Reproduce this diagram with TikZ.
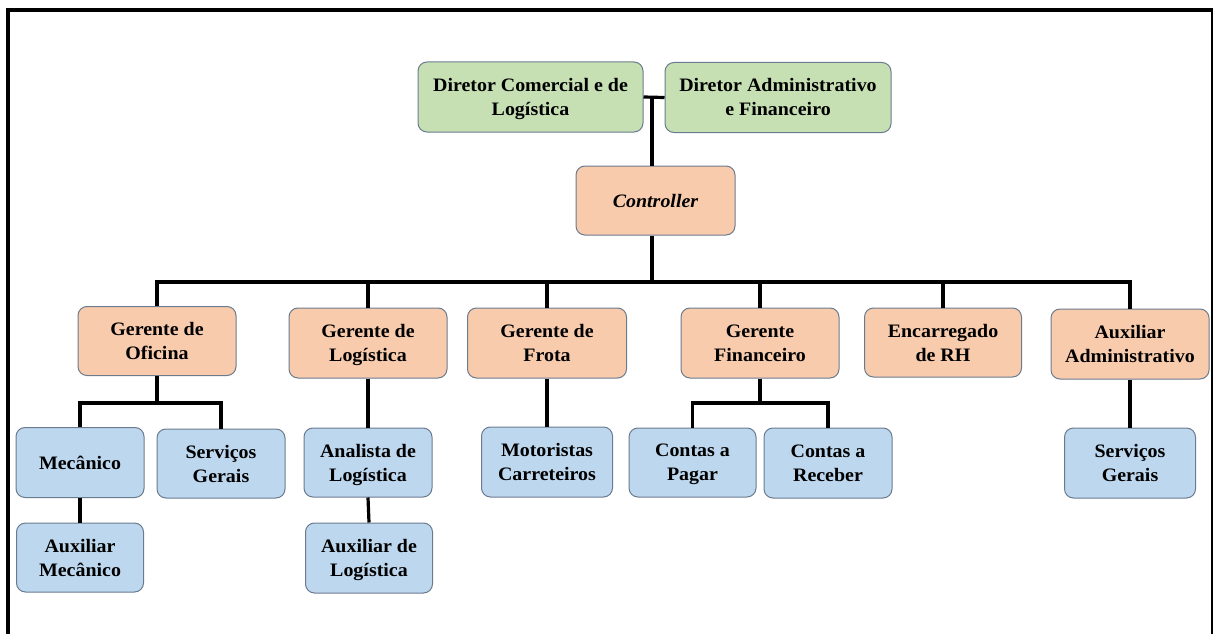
\documentclass[tikz,border=0pt]{standalone}
\usepackage{fontspec}
\setmainfont{Liberation Serif}[FakeStretch=1.05]
\begin{document}
\begin{tikzpicture}[x=1pt,y=-1pt,
  box/.style={draw=boxline, line width=1pt, rounded corners=9pt, align=center,
    font=\fontsize{19}{24}\selectfont\bfseries, inner sep=2pt},
  topbox/.style={box, fill=topfill},
  midbox/.style={box, fill=midfill},
  lowbox/.style={box, fill=lowfill},
  link/.style={line width=3.2pt, black},
  frame/.style={line width=4pt, black}]
\definecolor{boxline}{HTML}{6B7B8F}
\definecolor{topfill}{HTML}{C6E0B4}
\definecolor{midfill}{HTML}{F8CBAD}
\definecolor{lowfill}{HTML}{BDD7EE}
\useasboundingbox (0,0) rectangle (1213,634);
% frame
\draw[frame] (8,634) -- (8,10) -- (1213,10);
\draw[line width=2pt] (1212,10) -- (1212,634);
% top
\node[topbox, minimum width=225pt, minimum height=70pt] (dc) at (530.5,97) {Diretor Comercial e de\\\smash{Logística}};
\node[topbox, minimum width=226pt, minimum height=70pt] (da) at (778,97.5) {Diretor Administrativo\\e Financeiro};
\node[midbox, minimum width=159pt, minimum height=69pt] (ctrl) at (655.5,200.5) {\raisebox{-3pt}{\itshape Controller}};
% level 2
\node[midbox, minimum width=158pt, minimum height=69pt] (g1) at (157,341) {Gerente de\\Oficina};
\node[midbox, minimum width=158pt, minimum height=70pt] (g2) at (368,343) {Gerente de\\\smash{Logística}};
\node[midbox, minimum width=159pt, minimum height=70pt] (g3) at (547,343) {Gerente de\\Frota};
\node[midbox, minimum width=158pt, minimum height=70pt] (g4) at (760,343) {Gerente\\Financeiro};
\node[midbox, minimum width=157pt, minimum height=69pt] (g5) at (943,342.5) {Encarregado\\de RH};
\node[midbox, minimum width=158pt, minimum height=70pt] (g6) at (1130,344) {Auxiliar\\Administrativo};
% level 3
\node[lowbox, minimum width=128pt, minimum height=70pt] (mec) at (80,462.5) {Mecânico};
\node[lowbox, minimum width=128pt, minimum height=69pt] (sg1) at (221,463.5) {Serviços\\Gerais};
\node[lowbox, minimum width=127pt, minimum height=69pt] (amec) at (80,557.5) {Auxiliar\\Mecânico};
\node[lowbox, minimum width=128pt, minimum height=69pt] (anl) at (368,462.5) {Analista de\\\smash{Logística}};
\node[lowbox, minimum width=127pt, minimum height=70pt] (alog) at (369,558) {Auxiliar de\\\smash{Logística}};
\node[lowbox, minimum width=131pt, minimum height=70pt] (mot) at (547,462) {Motoristas\\Carreteiros};
\node[lowbox, minimum width=127pt, minimum height=69pt] (cp) at (692.5,462.5) {Contas a\\\smash{Pagar}};
\node[lowbox, minimum width=128pt, minimum height=70pt] (cr) at (828,463) {Contas a\\Receber};
\node[lowbox, minimum width=131pt, minimum height=70pt] (sg2) at (1130,463) {Serviços\\Gerais};
% connectors
\coordinate (jt) at (652,97);
\coordinate (bus) at (652,282);
\coordinate (b1) at (157,403);
\coordinate (b4) at (760,403);
\draw[link] (dc.east) -- (da.west);
\draw[link] (jt) -- (jt |- ctrl.north);
\draw[link] (jt |- ctrl.south) -- (bus);
\draw[link] (g1.north) |- (bus) -| (g6.north);
\draw[link] (g2.north) -- (g2.north |- bus);
\draw[link] (g3.north) -- (g3.north |- bus);
\draw[link] (g4.north) -- (g4.north |- bus);
\draw[link] (g5.north) -- (g5.north |- bus);
\draw[link] (g1.south) -- (b1);
\draw[link] (mec.north) |- (b1) -| (sg1.north);
\draw[link] (mec.south) -- (amec.north);
\draw[link] (g2.south) -- (anl.north);
\draw[link] (anl.south) -- (alog.north);
\draw[link] (g3.south) -- (mot.north);
\draw[link] (g4.south) -- (b4);
\draw[link] (cp.north) |- (b4) -| (cr.north);
\draw[link] (g6.south) -- (sg2.north);
\end{tikzpicture}
\end{document}
